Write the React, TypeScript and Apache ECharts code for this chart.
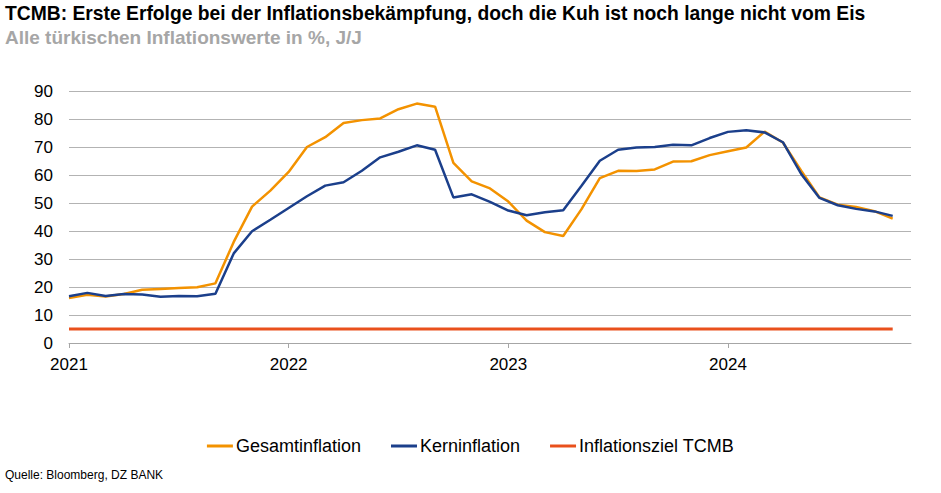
import React, { useEffect, useRef } from "react";
import * as echarts from "echarts";

const yearLabels = ["2021", "2022", "2023", "2024"];
const monthsOnAxis = 47;

const gesamtinflation = [
  16.1, 17.2, 16.6, 17.5, 19.0, 19.3, 19.6, 19.9, 21.3, 36.1, 48.7, 54.4,
  61.1, 70.0, 73.5, 78.6, 79.6, 80.2, 83.5, 85.5, 84.4, 64.3, 57.7, 55.2,
  50.5, 43.7, 39.6, 38.2, 47.8, 58.9, 61.5, 61.4, 62.0, 64.8, 64.9, 67.1,
  68.5, 69.8, 75.5, 71.6, 61.5, 52.0, 49.4, 48.6, 47.1, 44.4,
];

const kerninflation = [
  16.7, 17.9, 16.8, 17.5, 17.3, 16.5, 16.8, 16.7, 17.6, 32.0, 39.9, 44.0,
  48.2, 52.4, 56.2, 57.4, 61.5, 66.3, 68.3, 70.6, 69.0, 52.0, 53.1, 50.4,
  47.3, 45.6, 46.7, 47.4, 56.2, 65.1, 69.0, 69.8, 70.0, 70.8, 70.6, 73.2,
  75.4, 76.0, 75.2, 71.7, 60.4, 51.8, 49.2, 47.9, 47.0, 45.4,
];

const inflationszielValue = 5;
const inflationsziel = gesamtinflation.map(() => inflationszielValue);

const seriesNames = ["Gesamtinflation", "Kerninflation", "Inflationsziel TCMB"];
const colors = ["#F39200", "#1B3F8B", "#E9501C"];

const categories: string[] = Array.from({ length: monthsOnAxis }, (_, i) =>
  i % 12 === 0 ? yearLabels[i / 12] ?? "" : ""
);

export default function App() {
  const ref = useRef<HTMLDivElement>(null);

  useEffect(() => {
    document.body.style.margin = "0";
    if (!ref.current) return;
    const chart = echarts.init(ref.current, undefined, { renderer: "svg" });
    const font = "Liberation Sans, Arial, sans-serif";
    chart.setOption({
      animation: false,
      textStyle: { fontFamily: font },
      title: [
        {
          text: "TCMB: Erste Erfolge bei der Inflationsbekämpfung, doch die Kuh ist noch lange nicht vom Eis",
          left: 5,
          top: 4,
          padding: 0,
          textStyle: { fontFamily: font, fontSize: 19.3, fontWeight: "bold", color: "#000" },
        },
        {
          text: "Alle türkischen Inflationswerte in %, J/J",
          left: 5,
          top: 28,
          padding: 0,
          textStyle: { fontFamily: font, fontSize: 19, fontWeight: "bold", color: "#A6A6A6" },
        },
      ],
      graphic: [
        {
          type: "text",
          left: 5,
          top: 469,
          style: { text: "Quelle: Bloomberg, DZ BANK", font: `12px ${font}`, fill: "#000" },
        },
      ],
      legend: {
        top: 432,
        left: "center",
        itemWidth: 26,
        itemHeight: 3,
        itemGap: 30,
        icon: "rect",
        textStyle: { fontFamily: font, fontSize: 18, color: "#000", padding: [0, 0, 0, -2] },
        data: seriesNames,
      },
      grid: { left: 69, right: 30, top: 91, bottom: 150, containLabel: false },
      xAxis: {
        type: "category",
        boundaryGap: false,
        data: categories,
        axisLine: { show: true, lineStyle: { color: "#A6A6A6", width: 1 } },
        axisTick: {
          show: true,
          length: 5,
          interval: (i: number) => i % 12 === 0,
          lineStyle: { color: "#A6A6A6" },
        },
        axisLabel: {
          interval: (i: number) => i % 12 === 0,
          fontSize: 17,
          color: "#000",
          margin: 13,
          fontFamily: font,
        },
        splitLine: { show: false },
      },
      yAxis: {
        type: "value",
        min: 0,
        max: 90,
        interval: 10,
        axisLine: { show: false },
        axisTick: { show: false },
        axisLabel: { fontSize: 17, color: "#000", margin: 16, fontFamily: font },
        splitLine: { show: true, lineStyle: { color: "#B3B3B3", width: 1 } },
      },
      series: [
        {
          name: seriesNames[0],
          type: "line",
          data: gesamtinflation,
          symbol: "none",
          lineStyle: { color: colors[0], width: 2.5 },
          itemStyle: { color: colors[0] },
          z: 3,
        },
        {
          name: seriesNames[1],
          type: "line",
          data: kerninflation,
          symbol: "none",
          lineStyle: { color: colors[1], width: 2.5 },
          itemStyle: { color: colors[1] },
          z: 4,
        },
        {
          name: seriesNames[2],
          type: "line",
          data: inflationsziel,
          symbol: "none",
          lineStyle: { color: colors[2], width: 3 },
          itemStyle: { color: colors[2] },
          z: 2,
        },
      ],
    });
    return () => chart.dispose();
  }, []);

  return <div ref={ref} style={{ width: 941, height: 493 }} />;
}
